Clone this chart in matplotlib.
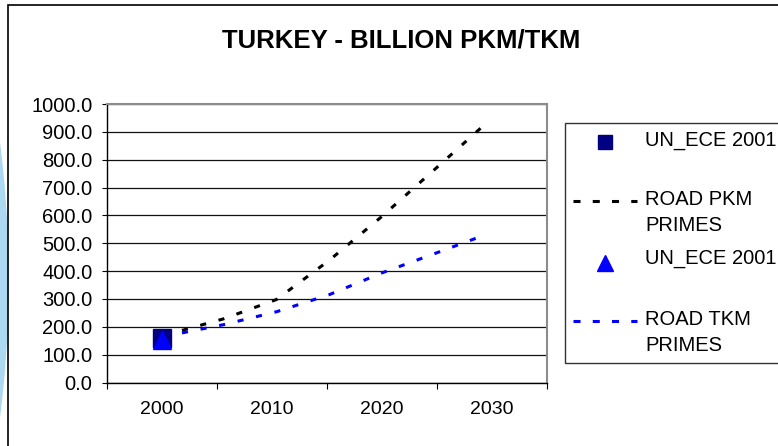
import matplotlib
matplotlib.use('Agg')
import matplotlib.pyplot as plt
from matplotlib.lines import Line2D
from matplotlib.patches import Rectangle, Ellipse
from matplotlib.ticker import FormatStrFormatter, MultipleLocator

plt.rcParams['font.family'] = ['Liberation Sans', 'DejaVu Sans']

# data
decades = [2000, 2010, 2020, 2030]
decade_labels = ['2000', '2010', '2020', '2030']
unece_year = [2000]
unece_pkm = [160]
unece_tkm = [152]
primes_years = [2001, 2005, 2010, 2015, 2020, 2025, 2030]
road_pkm = [187, 229, 298, 438, 595, 763, 932]
road_tkm = [178, 208, 254, 315, 393, 462, 532]

W, H = 778, 446
fig = plt.figure(figsize=(W / 100, H / 100), dpi=100)


def fx(px):
    return px / W


def fy(py):
    return 1 - py / H


# background decoration + frame of the chart
R = 1100
fig.add_artist(Ellipse((fx(8 - R), fy(280)), 2 * R / W, 2 * R / H, color='#acd9f1',
                       transform=fig.transFigure, zorder=0))
fig.add_artist(Rectangle((fx(8), -0.05), 1.1, fy(5) + 0.05, fill=False, ec='black',
                         lw=1.2, transform=fig.transFigure, zorder=1))

ax = fig.add_axes([fx(107), fy(382.5), 440 / W, 278.5 / H])
ax.set_xlim(1995, 2035)
ax.set_ylim(0, 1000)
ax.yaxis.set_major_locator(MultipleLocator(100))
ax.yaxis.set_major_formatter(FormatStrFormatter('%.1f'))
ax.set_xticks([1995, 2005, 2015, 2025, 2035])
ax.set_xticklabels([])
ax.set_xticks(decades, minor=True)
ax.set_xticklabels(decade_labels, minor=True)
ax.tick_params(axis='x', which='major', length=4.3, width=0.8, direction='out')
ax.tick_params(axis='x', which='minor', length=0, pad=13, labelsize=14)
ax.tick_params(axis='y', length=3.6, width=0.8, direction='out', pad=7, labelsize=14.5)
ax.grid(axis='y', color='#111111', lw=0.9)
for s in ['top', 'right']:
    ax.spines[s].set_color('#8c8c8c')
    ax.spines[s].set_linewidth(1.5)
for s in ['left', 'bottom']:
    ax.spines[s].set_color('black')
    ax.spines[s].set_linewidth(1.0)

ax.plot(unece_year, unece_pkm, ls='none', marker='s', ms=13, color='#000080')
ax.plot(unece_year, unece_tkm, ls='none', marker='^', ms=13, color='#0000ff')

# PRIMES projections sit on a hidden secondary year axis
ax2 = ax.twiny()
ax2.set_xlim(1993.86, 2035.76)
ax2.axis('off')
ax2.plot(primes_years, road_pkm, color='black', lw=2.2, dashes=(2, 4.2))
ax2.plot(primes_years, road_tkm, color='#0000ff', lw=2.2, dashes=(2, 4.2))

fig.text(fx(401), fy(40), 'TURKEY - BILLION PKM/TKM', ha='center', va='center',
         fontsize=18.5, fontweight='bold')

# legend box (runs off the right edge like the original)
fig.add_artist(Rectangle((fx(565), fy(363)), 300 / W, 240 / H, fill=False,
                         ec='#333333', lw=1.0, transform=fig.transFigure))
fig.add_artist(Line2D([fx(605)], [fy(142)], marker='s', ms=10, color='#000080',
                      transform=fig.transFigure))
fig.add_artist(Line2D([fx(573), fx(637)], [fy(200.7)] * 2, color='black', lw=2.2,
                      dashes=(2.3, 4), transform=fig.transFigure))
fig.add_artist(Line2D([fx(605)], [fy(263)], marker='^', ms=11, color='#0000ff',
                      transform=fig.transFigure))
fig.add_artist(Line2D([fx(573), fx(637)], [fy(320.7)] * 2, color='#0000ff', lw=2.2,
                      dashes=(2.3, 4), transform=fig.transFigure))

fig.text(fx(645), fy(140), 'UN_ECE 2001', va='center', fontsize=14.5)
fig.text(fx(645), fy(212.5), 'ROAD PKM\nPRIMES', va='center', fontsize=14.5, linespacing=1.5)
fig.text(fx(645), fy(258), 'UN_ECE 2001', va='center', fontsize=14.5)
fig.text(fx(645), fy(332.5), 'ROAD TKM\nPRIMES', va='center', fontsize=14.5, linespacing=1.5)

fig.savefig('out.png', dpi=100)
